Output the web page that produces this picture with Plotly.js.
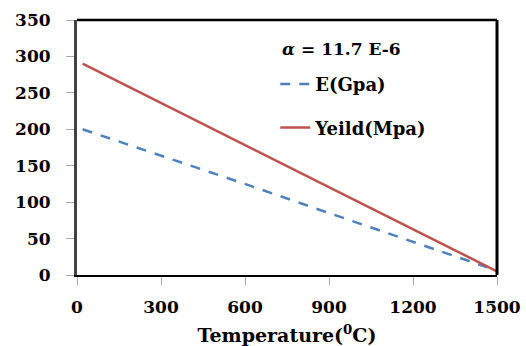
<!DOCTYPE html>
<html>
<head>
<meta charset="utf-8">
<script src="https://cdn.plot.ly/plotly-3.0.1.min.js"></script>
<style>html,body{margin:0;padding:0;background:#fff;}</style>
</head>
<body>
<div id="chart" style="width:526px;height:346px;"></div>
<script>
const temperature = [20, 300, 600, 900, 1200, 1500];
const modulusE = [200, 164, 125, 85, 46, 6];
const yieldStress = [290, 236, 178, 120, 62, 5];
const xTicks = [0, 300, 600, 900, 1200, 1500];
const yTicks = [0, 50, 100, 150, 200, 250, 300, 350];

const fontFam = '"DejaVu Serif", "Liberation Serif", serif';

const traces = [
  {x: temperature, y: modulusE, name: 'E(Gpa)', mode: 'lines', legendgroup: 'a',
   line: {color: '#4F81BD', width: 2.5, dash: '10px,9px'}},
  {x: temperature, y: yieldStress, name: 'Yeild(Mpa)', mode: 'lines', legendgroup: 'b',
   line: {color: '#C0504D', width: 2.5}}
];

const layout = {
  width: 526, height: 346,
  margin: {l: 77, r: 29, t: 20, b: 71},
  paper_bgcolor: '#fff', plot_bgcolor: '#fff',
  font: {family: fontFam, color: '#000', size: 17},
  showlegend: true,
  legend: {x: 0.472, y: 0.82, xanchor: 'left', yanchor: 'top',
    font: {family: fontFam, size: 18, color: '#000', weight: 'bold'},
    bgcolor: 'rgba(0,0,0,0)', tracegroupgap: 17, traceorder: 'grouped'},
  xaxis: {range: [0, 1500], tickvals: xTicks, ticktext: xTicks.map(String),
    showgrid: false, zeroline: false, showline: true, linecolor: '#000', linewidth: 2,
    ticks: 'outside', ticklen: 8, tickcolor: '#aaa', tickwidth: 1,
    ticklabelstandoff: 8,
    tickfont: {family: fontFam, size: 17, weight: 'bold'},
    title: {text: 'Temperature(<sup>0</sup>C)', standoff: 13,
      font: {family: fontFam, size: 19, weight: 'bold'}}},
  yaxis: {range: [0, 350], tickvals: yTicks, ticktext: yTicks.map(String),
    showgrid: false, zeroline: false, showline: true, linecolor: '#444', linewidth: 3,
    ticks: 'outside', ticklen: 8, tickcolor: '#aaa', tickwidth: 1,
    ticklabelstandoff: 12,
    tickfont: {family: fontFam, size: 17, weight: 'bold'}},
  shapes: [
    {type: 'line', xref: 'paper', yref: 'paper', x0: 0, x1: 1, y0: 1, y1: 1,
     line: {color: '#000', width: 2.5}},
    {type: 'line', xref: 'paper', yref: 'paper', x0: 1, x1: 1, y0: 0, y1: 1,
     line: {color: '#000', width: 3}}
  ],
  annotations: [
    {xref: 'paper', yref: 'paper', x: 0.483, y: 0.885, xanchor: 'left', yanchor: 'middle',
     showarrow: false, text: '<i>α</i> = 11.7 E-6',
     font: {family: fontFam, size: 17, weight: 'bold', color: '#000'}}
  ]
};

Plotly.newPlot('chart', traces, layout, {displayModeBar: false, staticPlot: true});
</script>
</body>
</html>
